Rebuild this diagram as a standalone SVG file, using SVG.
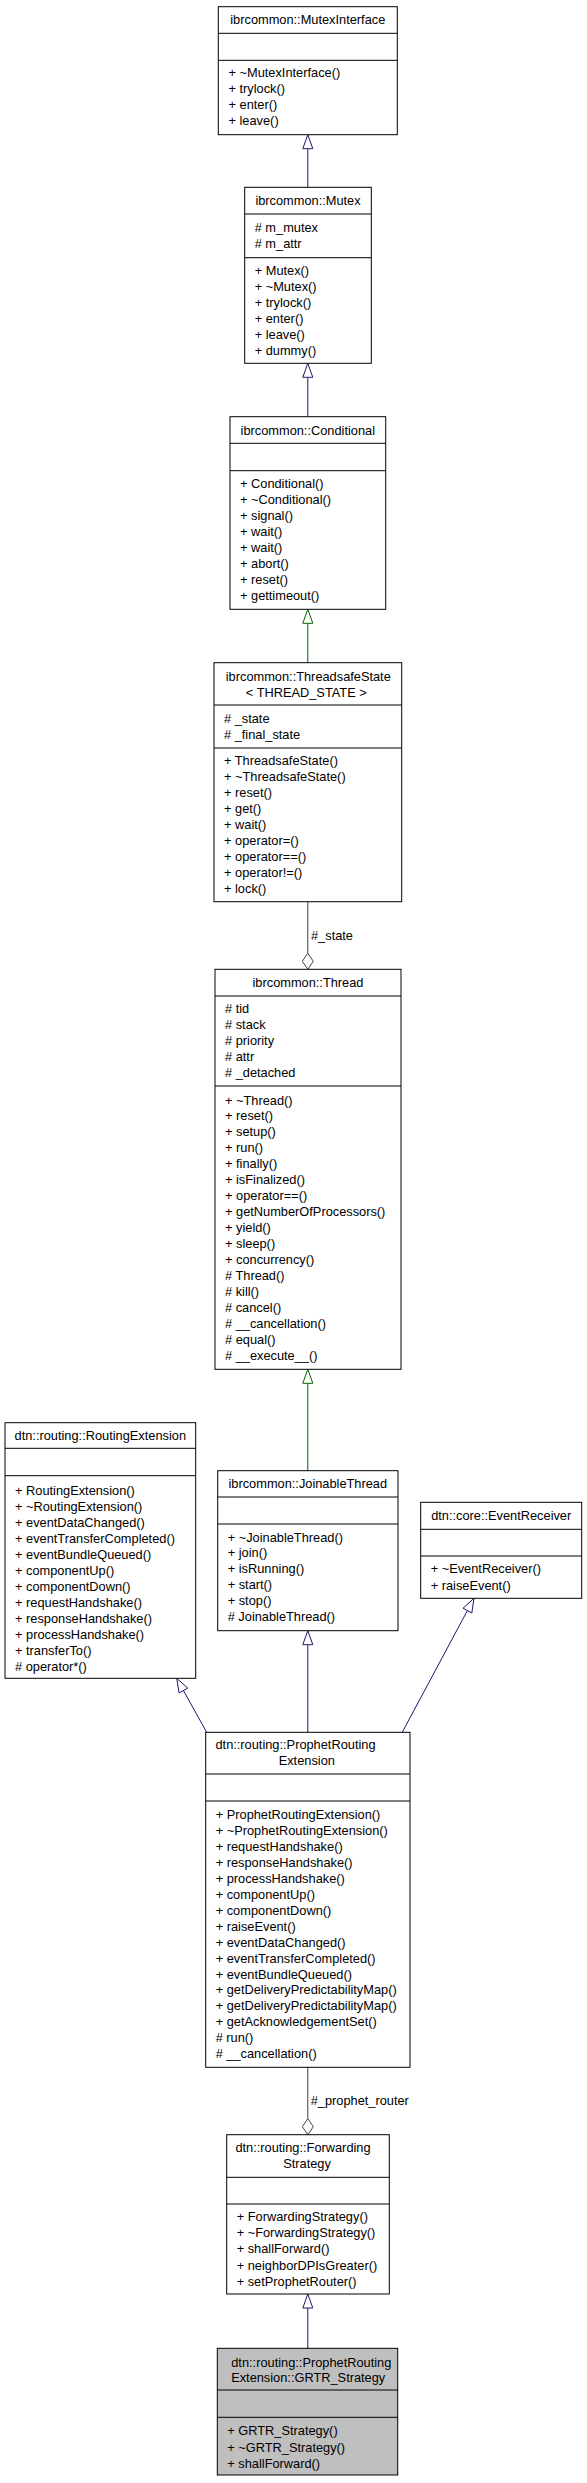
<svg xmlns="http://www.w3.org/2000/svg" width="587" height="2483" viewBox="0 0 587 2483">
<style>
text{font-family:"Liberation Sans",Arial,sans-serif;font-size:12.8px;fill:#000}
.t{text-anchor:middle}
.box{fill:#fff;stroke:#000;stroke-width:1}
.cur{fill:#bfbfbf;stroke:#000;stroke-width:1}
.sep{stroke:#000;stroke-width:1}
.pub{stroke:#191970;stroke-width:1;fill:none}
.pubh{stroke:#191970;stroke-width:1;fill:#fff}
.pro{stroke:#006400;stroke-width:1;fill:none}
.proh{stroke:#006400;stroke-width:1;fill:#fff}
.agg{stroke:#404040;stroke-width:1;fill:none}
.aggh{stroke:#404040;stroke-width:1;fill:#fff}
</style>
<rect width="587" height="2483" fill="#fff"/>
<g id="connectors">
  <line class="pub" x1="307.8" y1="148.7" x2="307.8" y2="187.3"/>
  <polygon class="pubh" points="307.8,134.7 302.8,148.7 312.8,148.7"/>
  <line class="pub" x1="307.8" y1="377.3" x2="307.8" y2="416.7"/>
  <polygon class="pubh" points="307.8,363.3 302.8,377.3 312.8,377.3"/>
  <line class="pro" x1="307.8" y1="623.3" x2="307.8" y2="662.7"/>
  <polygon class="proh" points="307.8,609.3 302.8,623.3 312.8,623.3"/>
  <line class="agg" x1="307.8" y1="901.7" x2="307.8" y2="953.3"/>
  <polygon class="aggh" points="307.8,953.3 302.3,961.3 307.8,969.3 313.3,961.3"/>
  <text x="311" y="940.2">#_state</text>
  <line class="pro" x1="307.8" y1="1383.3" x2="307.8" y2="1470.7"/>
  <polygon class="proh" points="307.8,1369.3 302.8,1383.3 312.8,1383.3"/>
  <line class="pub" x1="183.46" y1="1690.56" x2="206.7" y2="1732.3"/>
  <polygon class="pubh" points="176.7,1678.3 179.08,1692.98 187.84,1688.14"/>
  <line class="pub" x1="307.8" y1="1644.7" x2="307.8" y2="1732.3"/>
  <polygon class="pubh" points="307.8,1630.7 302.8,1644.7 312.8,1644.7"/>
  <line class="pub" x1="467.39" y1="1610.64" x2="401.7" y2="1733.3"/>
  <polygon class="pubh" points="474,1598.3 471.8,1613 462.98,1608.28"/>
  <line class="agg" x1="307.8" y1="2067.3" x2="307.8" y2="2118.7"/>
  <polygon class="aggh" points="307.8,2118.7 302.3,2126.7 307.8,2134.7 313.3,2126.7"/>
  <text x="310.7" y="2105.2">#_prophet_router</text>
  <line class="pub" x1="307.8" y1="2308" x2="307.8" y2="2348.3"/>
  <polygon class="pubh" points="307.8,2294 302.8,2308 312.8,2308"/>
</g>
<g id="MutexInterface">
  <rect class="box" x="218.3" y="6.7" width="179" height="128"/>
  <line class="sep" x1="218.3" y1="33.3" x2="397.3" y2="33.3"/>
  <line class="sep" x1="218.3" y1="60.3" x2="397.3" y2="60.3"/>
  <text class="t" x="307.8" y="23.8">ibrcommon::MutexInterface</text>
  <text x="228.5" y="77.3">+ ~MutexInterface()</text>
  <text x="228.5" y="93.1">+ trylock()</text>
  <text x="228.5" y="108.9">+ enter()</text>
  <text x="228.5" y="124.7">+ leave()</text>
</g>
<g id="Mutex">
  <rect class="box" x="244.7" y="187.3" width="126.6" height="176"/>
  <line class="sep" x1="244.7" y1="214" x2="371.3" y2="214"/>
  <line class="sep" x1="244.7" y1="257.7" x2="371.3" y2="257.7"/>
  <text class="t" x="308" y="205.2">ibrcommon::Mutex</text>
  <text x="254.7" y="232.2"># m_mutex</text>
  <text x="254.7" y="247.8"># m_attr</text>
  <text x="254.7" y="275.2">+ Mutex()</text>
  <text x="254.7" y="291.1">+ ~Mutex()</text>
  <text x="254.7" y="307">+ trylock()</text>
  <text x="254.7" y="322.9">+ enter()</text>
  <text x="254.7" y="338.8">+ leave()</text>
  <text x="254.7" y="354.7">+ dummy()</text>
</g>
<g id="Conditional">
  <rect class="box" x="230" y="416.7" width="155.7" height="192.6"/>
  <line class="sep" x1="230" y1="443.3" x2="385.7" y2="443.3"/>
  <line class="sep" x1="230" y1="470.7" x2="385.7" y2="470.7"/>
  <text class="t" x="307.8" y="435.2">ibrcommon::Conditional</text>
  <text x="240" y="487.8">+ Conditional()</text>
  <text x="240" y="503.85">+ ~Conditional()</text>
  <text x="240" y="519.9">+ signal()</text>
  <text x="240" y="535.95">+ wait()</text>
  <text x="240" y="552">+ wait()</text>
  <text x="240" y="568.05">+ abort()</text>
  <text x="240" y="584.1">+ reset()</text>
  <text x="240" y="600.15">+ gettimeout()</text>
</g>
<g id="ThreadsafeState">
  <rect class="box" x="214" y="662.7" width="187.7" height="239"/>
  <line class="sep" x1="214" y1="705" x2="401.7" y2="705"/>
  <line class="sep" x1="214" y1="748" x2="401.7" y2="748"/>
  <text class="t" x="308.3" y="680.5">ibrcommon::ThreadsafeState</text>
  <text class="t" x="306.3" y="696.5">&lt; THREAD_STATE &gt;</text>
  <text x="224" y="723.2"># _state</text>
  <text x="224" y="739.2"># _final_state</text>
  <text x="224" y="764.5">+ ThreadsafeState()</text>
  <text x="224" y="780.5">+ ~ThreadsafeState()</text>
  <text x="224" y="796.6">+ reset()</text>
  <text x="224" y="812.6">+ get()</text>
  <text x="224" y="828.7">+ wait()</text>
  <text x="224" y="844.7">+ operator=()</text>
  <text x="224" y="860.7">+ operator==()</text>
  <text x="224" y="876.8">+ operator!=()</text>
  <text x="224" y="892.8">+ lock()</text>
</g>
<g id="Thread">
  <rect class="box" x="215" y="969.3" width="186" height="400"/>
  <line class="sep" x1="215" y1="996" x2="401" y2="996"/>
  <line class="sep" x1="215" y1="1086" x2="401" y2="1086"/>
  <text class="t" x="308" y="986.8">ibrcommon::Thread</text>
  <text x="225" y="1013.2"># tid</text>
  <text x="225" y="1029.1"># stack</text>
  <text x="225" y="1045"># priority</text>
  <text x="225" y="1060.9"># attr</text>
  <text x="225" y="1076.8"># _detached</text>
  <text x="225" y="1104.5">+ ~Thread()</text>
  <text x="225" y="1120.45">+ reset()</text>
  <text x="225" y="1136.4">+ setup()</text>
  <text x="225" y="1152.35">+ run()</text>
  <text x="225" y="1168.3">+ finally()</text>
  <text x="225" y="1184.25">+ isFinalized()</text>
  <text x="225" y="1200.2">+ operator==()</text>
  <text x="225" y="1216.15">+ getNumberOfProcessors()</text>
  <text x="225" y="1232.1">+ yield()</text>
  <text x="225" y="1248.05">+ sleep()</text>
  <text x="225" y="1264">+ concurrency()</text>
  <text x="225" y="1279.95"># Thread()</text>
  <text x="225" y="1295.9"># kill()</text>
  <text x="225" y="1311.85"># cancel()</text>
  <text x="225" y="1327.8"># __cancellation()</text>
  <text x="225" y="1343.75"># equal()</text>
  <text x="225" y="1359.7"># __execute__()</text>
</g>
<g id="RoutingExtension">
  <rect class="box" x="5" y="1422.7" width="190.7" height="255.6"/>
  <line class="sep" x1="5" y1="1448.3" x2="195.7" y2="1448.3"/>
  <line class="sep" x1="5" y1="1475.7" x2="195.7" y2="1475.7"/>
  <text class="t" x="100.3" y="1440.2">dtn::routing::RoutingExtension</text>
  <text x="15" y="1494.5">+ RoutingExtension()</text>
  <text x="15" y="1510.56">+ ~RoutingExtension()</text>
  <text x="15" y="1526.62">+ eventDataChanged()</text>
  <text x="15" y="1542.68">+ eventTransferCompleted()</text>
  <text x="15" y="1558.74">+ eventBundleQueued()</text>
  <text x="15" y="1574.8">+ componentUp()</text>
  <text x="15" y="1590.86">+ componentDown()</text>
  <text x="15" y="1606.92">+ requestHandshake()</text>
  <text x="15" y="1622.98">+ responseHandshake()</text>
  <text x="15" y="1639.04">+ processHandshake()</text>
  <text x="15" y="1655.1">+ transferTo()</text>
  <text x="15" y="1671.16"># operator*()</text>
</g>
<g id="JoinableThread">
  <rect class="box" x="217.7" y="1470.7" width="180.3" height="160"/>
  <line class="sep" x1="217.7" y1="1497" x2="398" y2="1497"/>
  <line class="sep" x1="217.7" y1="1524" x2="398" y2="1524"/>
  <text class="t" x="307.8" y="1487.8">ibrcommon::JoinableThread</text>
  <text x="227.7" y="1541.8">+ ~JoinableThread()</text>
  <text x="227.7" y="1557.4">+ join()</text>
  <text x="227.7" y="1573">+ isRunning()</text>
  <text x="227.7" y="1589.2">+ start()</text>
  <text x="227.7" y="1605">+ stop()</text>
  <text x="227.7" y="1620.5"># JoinableThread()</text>
</g>
<g id="EventReceiver">
  <rect class="box" x="420.7" y="1502.3" width="161" height="96"/>
  <line class="sep" x1="420.7" y1="1529.3" x2="581.7" y2="1529.3"/>
  <line class="sep" x1="420.7" y1="1556" x2="581.7" y2="1556"/>
  <text class="t" x="501.2" y="1520.2">dtn::core::EventReceiver</text>
  <text x="430.7" y="1572.8">+ ~EventReceiver()</text>
  <text x="430.7" y="1589.5">+ raiseEvent()</text>
</g>
<g id="ProphetRoutingExtension">
  <rect class="box" x="205.7" y="1732.3" width="204.3" height="335"/>
  <line class="sep" x1="205.7" y1="1774" x2="410" y2="1774"/>
  <line class="sep" x1="205.7" y1="1801" x2="410" y2="1801"/>
  <text class="t" x="295.5" y="1748.8">dtn::routing::ProphetRouting</text>
  <text class="t" x="306.8" y="1764.5">Extension</text>
  <text x="215.7" y="1818.8">+ ProphetRoutingExtension()</text>
  <text x="215.7" y="1834.77">+ ~ProphetRoutingExtension()</text>
  <text x="215.7" y="1850.74">+ requestHandshake()</text>
  <text x="215.7" y="1866.71">+ responseHandshake()</text>
  <text x="215.7" y="1882.68">+ processHandshake()</text>
  <text x="215.7" y="1898.65">+ componentUp()</text>
  <text x="215.7" y="1914.62">+ componentDown()</text>
  <text x="215.7" y="1930.59">+ raiseEvent()</text>
  <text x="215.7" y="1946.56">+ eventDataChanged()</text>
  <text x="215.7" y="1962.53">+ eventTransferCompleted()</text>
  <text x="215.7" y="1978.5">+ eventBundleQueued()</text>
  <text x="215.7" y="1994.47">+ getDeliveryPredictabilityMap()</text>
  <text x="215.7" y="2010.44">+ getDeliveryPredictabilityMap()</text>
  <text x="215.7" y="2026.41">+ getAcknowledgementSet()</text>
  <text x="215.7" y="2042.38"># run()</text>
  <text x="215.7" y="2058.35"># __cancellation()</text>
</g>
<g id="ForwardingStrategy">
  <rect class="box" x="226.7" y="2134.7" width="162.6" height="159.3"/>
  <line class="sep" x1="226.7" y1="2177.3" x2="389.3" y2="2177.3"/>
  <line class="sep" x1="226.7" y1="2204" x2="389.3" y2="2204"/>
  <text class="t" x="303" y="2152.2">dtn::routing::Forwarding</text>
  <text class="t" x="307" y="2167.8">Strategy</text>
  <text x="236.7" y="2221.2">+ ForwardingStrategy()</text>
  <text x="236.7" y="2237.2">+ ~ForwardingStrategy()</text>
  <text x="236.7" y="2252.8">+ shallForward()</text>
  <text x="236.7" y="2269.5">+ neighborDPIsGreater()</text>
  <text x="236.7" y="2286.2">+ setProphetRouter()</text>
</g>
<g id="GRTR_Strategy">
  <rect class="cur" x="217.3" y="2348.3" width="180.4" height="126.7"/>
  <line class="sep" x1="217.3" y1="2390" x2="397.7" y2="2390"/>
  <line class="sep" x1="217.3" y1="2417.3" x2="397.7" y2="2417.3"/>
  <text class="t" x="311.3" y="2366.8">dtn::routing::ProphetRouting</text>
  <text class="t" x="308.2" y="2382.2">Extension::GRTR_Strategy</text>
  <text x="227.3" y="2435.2">+ GRTR_Strategy()</text>
  <text x="227.3" y="2451.8">+ ~GRTR_Strategy()</text>
  <text x="227.3" y="2467.8">+ shallForward()</text>
</g>
</svg>
